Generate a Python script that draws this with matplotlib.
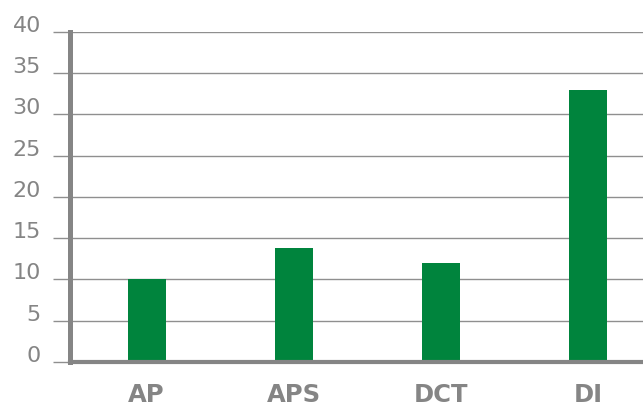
import matplotlib.pyplot as plt

categories = ['AP', 'APS', 'DCT', 'DI']
values = [10, 13.8, 12, 33]
y_ticks = [0, 5, 10, 15, 20, 25, 30, 35, 40]

gray = '#858585'
green = '#00843D'

fig = plt.figure(figsize=(6.43, 4.07), dpi=100)
ax = fig.add_axes([0.109, 0.1106, 0.891, 0.8108])

x = list(range(len(categories)))
ax.bar(x, values, width=0.258, color=green, zorder=3)

ax.set_xlim(-0.52, 3.374)
ax.set_ylim(0, 40)
ax.set_yticks(y_ticks)
ax.set_yticklabels([str(t) for t in y_ticks], fontsize=16, color=gray)
for lab in ax.get_yticklabels():
    lab.set_verticalalignment('baseline')
ax.set_xticks(x)
ax.set_xticklabels(categories, fontsize=17.5, fontweight='bold', color=gray)

ax.yaxis.grid(True, color='#8f8f8f', linewidth=1, zorder=0)
ax.set_axisbelow(True)
ax.tick_params(axis='y', length=12, width=1, color='#8f8f8f', pad=9)
ax.tick_params(axis='x', length=0, pad=15)

for side in ['top', 'right']:
    ax.spines[side].set_visible(False)
ax.spines['left'].set_color(gray)
ax.spines['left'].set_linewidth(3.6)
ax.spines['left'].set_bounds(0, 40)
ax.spines['bottom'].set_color(gray)
ax.spines['bottom'].set_linewidth(3)
ax.spines['left'].set_zorder(4)
ax.spines['bottom'].set_zorder(4)

plt.savefig('out.png', dpi=100)
